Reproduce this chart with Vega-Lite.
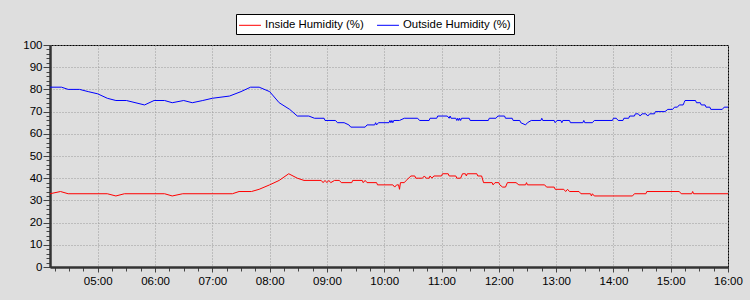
{
  "$schema": "https://vega.github.io/schema/vega-lite/v6.json",
  "autosize": "none",
  "width": 678,
  "height": 222,
  "padding": {"left": 50, "top": 45, "right": 22, "bottom": 33},
  "background": "#dedede",
  "config": {
    "view": {"stroke": "#000000", "strokeWidth": 1, "fill": "#dedede"},
    "font": "Liberation Sans",
    "axis": {"labelFont": "Liberation Sans", "labelFontSize": 11.5, "labelColor": "#000000", "domainColor": "#333333", "domainWidth": 2.5, "tickColor": "#444444", "gridColor": "#9a9a9a", "gridDash": [1, 2], "gridWidth": 1},
    "legend": {"labelFont": "Liberation Sans", "labelFontSize": 11.4, "labelColor": "#000000"}
  },
  "data": {"values": [
    {"t": "2024-01-01T04:10Z", "s": "Outside Humidity (%)", "v": 81},
    {"t": "2024-01-01T04:22Z", "s": "Outside Humidity (%)", "v": 81},
    {"t": "2024-01-01T04:29Z", "s": "Outside Humidity (%)", "v": 80},
    {"t": "2024-01-01T04:41Z", "s": "Outside Humidity (%)", "v": 80},
    {"t": "2024-01-01T04:50Z", "s": "Outside Humidity (%)", "v": 79},
    {"t": "2024-01-01T05:00Z", "s": "Outside Humidity (%)", "v": 78},
    {"t": "2024-01-01T05:10Z", "s": "Outside Humidity (%)", "v": 76},
    {"t": "2024-01-01T05:19Z", "s": "Outside Humidity (%)", "v": 75},
    {"t": "2024-01-01T05:30Z", "s": "Outside Humidity (%)", "v": 75},
    {"t": "2024-01-01T05:49Z", "s": "Outside Humidity (%)", "v": 73},
    {"t": "2024-01-01T05:59Z", "s": "Outside Humidity (%)", "v": 75},
    {"t": "2024-01-01T06:10Z", "s": "Outside Humidity (%)", "v": 75},
    {"t": "2024-01-01T06:18Z", "s": "Outside Humidity (%)", "v": 74},
    {"t": "2024-01-01T06:30Z", "s": "Outside Humidity (%)", "v": 75},
    {"t": "2024-01-01T06:39Z", "s": "Outside Humidity (%)", "v": 74},
    {"t": "2024-01-01T06:50Z", "s": "Outside Humidity (%)", "v": 75},
    {"t": "2024-01-01T07:00Z", "s": "Outside Humidity (%)", "v": 76},
    {"t": "2024-01-01T07:18Z", "s": "Outside Humidity (%)", "v": 77},
    {"t": "2024-01-01T07:30Z", "s": "Outside Humidity (%)", "v": 79},
    {"t": "2024-01-01T07:40Z", "s": "Outside Humidity (%)", "v": 81},
    {"t": "2024-01-01T07:49Z", "s": "Outside Humidity (%)", "v": 81},
    {"t": "2024-01-01T08:00Z", "s": "Outside Humidity (%)", "v": 79},
    {"t": "2024-01-01T08:10Z", "s": "Outside Humidity (%)", "v": 74},
    {"t": "2024-01-01T08:21Z", "s": "Outside Humidity (%)", "v": 71},
    {"t": "2024-01-01T08:29Z", "s": "Outside Humidity (%)", "v": 68},
    {"t": "2024-01-01T08:41Z", "s": "Outside Humidity (%)", "v": 68},
    {"t": "2024-01-01T08:47Z", "s": "Outside Humidity (%)", "v": 67},
    {"t": "2024-01-01T08:57Z", "s": "Outside Humidity (%)", "v": 67},
    {"t": "2024-01-01T08:58Z", "s": "Outside Humidity (%)", "v": 66},
    {"t": "2024-01-01T09:09Z", "s": "Outside Humidity (%)", "v": 66},
    {"t": "2024-01-01T09:11Z", "s": "Outside Humidity (%)", "v": 65},
    {"t": "2024-01-01T09:18Z", "s": "Outside Humidity (%)", "v": 65},
    {"t": "2024-01-01T09:23Z", "s": "Outside Humidity (%)", "v": 64},
    {"t": "2024-01-01T09:25Z", "s": "Outside Humidity (%)", "v": 63},
    {"t": "2024-01-01T09:40Z", "s": "Outside Humidity (%)", "v": 63},
    {"t": "2024-01-01T09:42Z", "s": "Outside Humidity (%)", "v": 64},
    {"t": "2024-01-01T09:50Z", "s": "Outside Humidity (%)", "v": 64},
    {"t": "2024-01-01T09:51Z", "s": "Outside Humidity (%)", "v": 65},
    {"t": "2024-01-01T09:52Z", "s": "Outside Humidity (%)", "v": 64},
    {"t": "2024-01-01T09:54Z", "s": "Outside Humidity (%)", "v": 65},
    {"t": "2024-01-01T10:05Z", "s": "Outside Humidity (%)", "v": 65},
    {"t": "2024-01-01T10:06Z", "s": "Outside Humidity (%)", "v": 66},
    {"t": "2024-01-01T10:07Z", "s": "Outside Humidity (%)", "v": 65},
    {"t": "2024-01-01T10:08Z", "s": "Outside Humidity (%)", "v": 66},
    {"t": "2024-01-01T10:09Z", "s": "Outside Humidity (%)", "v": 65},
    {"t": "2024-01-01T10:10Z", "s": "Outside Humidity (%)", "v": 66},
    {"t": "2024-01-01T10:16Z", "s": "Outside Humidity (%)", "v": 66},
    {"t": "2024-01-01T10:21Z", "s": "Outside Humidity (%)", "v": 67},
    {"t": "2024-01-01T10:35Z", "s": "Outside Humidity (%)", "v": 67},
    {"t": "2024-01-01T10:37Z", "s": "Outside Humidity (%)", "v": 66},
    {"t": "2024-01-01T10:47Z", "s": "Outside Humidity (%)", "v": 66},
    {"t": "2024-01-01T10:48Z", "s": "Outside Humidity (%)", "v": 67},
    {"t": "2024-01-01T10:55Z", "s": "Outside Humidity (%)", "v": 67},
    {"t": "2024-01-01T10:56Z", "s": "Outside Humidity (%)", "v": 68},
    {"t": "2024-01-01T11:06Z", "s": "Outside Humidity (%)", "v": 68},
    {"t": "2024-01-01T11:08Z", "s": "Outside Humidity (%)", "v": 67},
    {"t": "2024-01-01T11:09Z", "s": "Outside Humidity (%)", "v": 68},
    {"t": "2024-01-01T11:10Z", "s": "Outside Humidity (%)", "v": 67},
    {"t": "2024-01-01T11:15Z", "s": "Outside Humidity (%)", "v": 67},
    {"t": "2024-01-01T11:16Z", "s": "Outside Humidity (%)", "v": 66},
    {"t": "2024-01-01T11:17Z", "s": "Outside Humidity (%)", "v": 67},
    {"t": "2024-01-01T11:18Z", "s": "Outside Humidity (%)", "v": 66},
    {"t": "2024-01-01T11:19Z", "s": "Outside Humidity (%)", "v": 67},
    {"t": "2024-01-01T11:20Z", "s": "Outside Humidity (%)", "v": 66},
    {"t": "2024-01-01T11:21Z", "s": "Outside Humidity (%)", "v": 67},
    {"t": "2024-01-01T11:29Z", "s": "Outside Humidity (%)", "v": 67},
    {"t": "2024-01-01T11:30Z", "s": "Outside Humidity (%)", "v": 66},
    {"t": "2024-01-01T11:49Z", "s": "Outside Humidity (%)", "v": 66},
    {"t": "2024-01-01T11:50Z", "s": "Outside Humidity (%)", "v": 67},
    {"t": "2024-01-01T11:57Z", "s": "Outside Humidity (%)", "v": 67},
    {"t": "2024-01-01T11:59Z", "s": "Outside Humidity (%)", "v": 68},
    {"t": "2024-01-01T12:06Z", "s": "Outside Humidity (%)", "v": 68},
    {"t": "2024-01-01T12:07Z", "s": "Outside Humidity (%)", "v": 67},
    {"t": "2024-01-01T12:14Z", "s": "Outside Humidity (%)", "v": 67},
    {"t": "2024-01-01T12:15Z", "s": "Outside Humidity (%)", "v": 66},
    {"t": "2024-01-01T12:22Z", "s": "Outside Humidity (%)", "v": 66},
    {"t": "2024-01-01T12:23Z", "s": "Outside Humidity (%)", "v": 65},
    {"t": "2024-01-01T12:28Z", "s": "Outside Humidity (%)", "v": 64},
    {"t": "2024-01-01T12:30Z", "s": "Outside Humidity (%)", "v": 65},
    {"t": "2024-01-01T12:34Z", "s": "Outside Humidity (%)", "v": 66},
    {"t": "2024-01-01T12:44Z", "s": "Outside Humidity (%)", "v": 66},
    {"t": "2024-01-01T12:45Z", "s": "Outside Humidity (%)", "v": 67},
    {"t": "2024-01-01T12:46Z", "s": "Outside Humidity (%)", "v": 66},
    {"t": "2024-01-01T12:58Z", "s": "Outside Humidity (%)", "v": 66},
    {"t": "2024-01-01T12:59Z", "s": "Outside Humidity (%)", "v": 65},
    {"t": "2024-01-01T13:01Z", "s": "Outside Humidity (%)", "v": 66},
    {"t": "2024-01-01T13:05Z", "s": "Outside Humidity (%)", "v": 66},
    {"t": "2024-01-01T13:06Z", "s": "Outside Humidity (%)", "v": 65},
    {"t": "2024-01-01T13:07Z", "s": "Outside Humidity (%)", "v": 66},
    {"t": "2024-01-01T13:14Z", "s": "Outside Humidity (%)", "v": 66},
    {"t": "2024-01-01T13:15Z", "s": "Outside Humidity (%)", "v": 65},
    {"t": "2024-01-01T13:28Z", "s": "Outside Humidity (%)", "v": 65},
    {"t": "2024-01-01T13:29Z", "s": "Outside Humidity (%)", "v": 66},
    {"t": "2024-01-01T13:30Z", "s": "Outside Humidity (%)", "v": 65},
    {"t": "2024-01-01T13:38Z", "s": "Outside Humidity (%)", "v": 65},
    {"t": "2024-01-01T13:40Z", "s": "Outside Humidity (%)", "v": 66},
    {"t": "2024-01-01T13:59Z", "s": "Outside Humidity (%)", "v": 66},
    {"t": "2024-01-01T14:00Z", "s": "Outside Humidity (%)", "v": 67},
    {"t": "2024-01-01T14:03Z", "s": "Outside Humidity (%)", "v": 67},
    {"t": "2024-01-01T14:05Z", "s": "Outside Humidity (%)", "v": 66},
    {"t": "2024-01-01T14:10Z", "s": "Outside Humidity (%)", "v": 66},
    {"t": "2024-01-01T14:11Z", "s": "Outside Humidity (%)", "v": 67},
    {"t": "2024-01-01T14:16Z", "s": "Outside Humidity (%)", "v": 67},
    {"t": "2024-01-01T14:17Z", "s": "Outside Humidity (%)", "v": 68},
    {"t": "2024-01-01T14:22Z", "s": "Outside Humidity (%)", "v": 68},
    {"t": "2024-01-01T14:23Z", "s": "Outside Humidity (%)", "v": 69},
    {"t": "2024-01-01T14:26Z", "s": "Outside Humidity (%)", "v": 69},
    {"t": "2024-01-01T14:28Z", "s": "Outside Humidity (%)", "v": 68},
    {"t": "2024-01-01T14:30Z", "s": "Outside Humidity (%)", "v": 69},
    {"t": "2024-01-01T14:34Z", "s": "Outside Humidity (%)", "v": 69},
    {"t": "2024-01-01T14:36Z", "s": "Outside Humidity (%)", "v": 68},
    {"t": "2024-01-01T14:38Z", "s": "Outside Humidity (%)", "v": 69},
    {"t": "2024-01-01T14:43Z", "s": "Outside Humidity (%)", "v": 69},
    {"t": "2024-01-01T14:44Z", "s": "Outside Humidity (%)", "v": 70},
    {"t": "2024-01-01T14:54Z", "s": "Outside Humidity (%)", "v": 70},
    {"t": "2024-01-01T14:57Z", "s": "Outside Humidity (%)", "v": 71},
    {"t": "2024-01-01T15:02Z", "s": "Outside Humidity (%)", "v": 71},
    {"t": "2024-01-01T15:04Z", "s": "Outside Humidity (%)", "v": 72},
    {"t": "2024-01-01T15:07Z", "s": "Outside Humidity (%)", "v": 72},
    {"t": "2024-01-01T15:09Z", "s": "Outside Humidity (%)", "v": 73},
    {"t": "2024-01-01T15:13Z", "s": "Outside Humidity (%)", "v": 73},
    {"t": "2024-01-01T15:14Z", "s": "Outside Humidity (%)", "v": 74},
    {"t": "2024-01-01T15:15Z", "s": "Outside Humidity (%)", "v": 75},
    {"t": "2024-01-01T15:26Z", "s": "Outside Humidity (%)", "v": 75},
    {"t": "2024-01-01T15:27Z", "s": "Outside Humidity (%)", "v": 74},
    {"t": "2024-01-01T15:31Z", "s": "Outside Humidity (%)", "v": 74},
    {"t": "2024-01-01T15:32Z", "s": "Outside Humidity (%)", "v": 73},
    {"t": "2024-01-01T15:36Z", "s": "Outside Humidity (%)", "v": 73},
    {"t": "2024-01-01T15:37Z", "s": "Outside Humidity (%)", "v": 72},
    {"t": "2024-01-01T15:41Z", "s": "Outside Humidity (%)", "v": 72},
    {"t": "2024-01-01T15:42Z", "s": "Outside Humidity (%)", "v": 71},
    {"t": "2024-01-01T15:54Z", "s": "Outside Humidity (%)", "v": 71},
    {"t": "2024-01-01T15:56Z", "s": "Outside Humidity (%)", "v": 72},
    {"t": "2024-01-01T16:00Z", "s": "Outside Humidity (%)", "v": 72},
    {"t": "2024-01-01T04:10Z", "s": "Inside Humidity (%)", "v": 33},
    {"t": "2024-01-01T04:21Z", "s": "Inside Humidity (%)", "v": 34},
    {"t": "2024-01-01T04:29Z", "s": "Inside Humidity (%)", "v": 33},
    {"t": "2024-01-01T05:10Z", "s": "Inside Humidity (%)", "v": 33},
    {"t": "2024-01-01T05:19Z", "s": "Inside Humidity (%)", "v": 32},
    {"t": "2024-01-01T05:28Z", "s": "Inside Humidity (%)", "v": 33},
    {"t": "2024-01-01T06:10Z", "s": "Inside Humidity (%)", "v": 33},
    {"t": "2024-01-01T06:18Z", "s": "Inside Humidity (%)", "v": 32},
    {"t": "2024-01-01T06:29Z", "s": "Inside Humidity (%)", "v": 33},
    {"t": "2024-01-01T07:21Z", "s": "Inside Humidity (%)", "v": 33},
    {"t": "2024-01-01T07:28Z", "s": "Inside Humidity (%)", "v": 34},
    {"t": "2024-01-01T07:41Z", "s": "Inside Humidity (%)", "v": 34},
    {"t": "2024-01-01T07:49Z", "s": "Inside Humidity (%)", "v": 35},
    {"t": "2024-01-01T08:00Z", "s": "Inside Humidity (%)", "v": 37},
    {"t": "2024-01-01T08:10Z", "s": "Inside Humidity (%)", "v": 39},
    {"t": "2024-01-01T08:20Z", "s": "Inside Humidity (%)", "v": 42},
    {"t": "2024-01-01T08:29Z", "s": "Inside Humidity (%)", "v": 40},
    {"t": "2024-01-01T08:36Z", "s": "Inside Humidity (%)", "v": 39},
    {"t": "2024-01-01T08:54Z", "s": "Inside Humidity (%)", "v": 39},
    {"t": "2024-01-01T08:56Z", "s": "Inside Humidity (%)", "v": 38},
    {"t": "2024-01-01T08:58Z", "s": "Inside Humidity (%)", "v": 39},
    {"t": "2024-01-01T09:00Z", "s": "Inside Humidity (%)", "v": 38},
    {"t": "2024-01-01T09:02Z", "s": "Inside Humidity (%)", "v": 39},
    {"t": "2024-01-01T09:04Z", "s": "Inside Humidity (%)", "v": 38},
    {"t": "2024-01-01T09:08Z", "s": "Inside Humidity (%)", "v": 39},
    {"t": "2024-01-01T09:13Z", "s": "Inside Humidity (%)", "v": 39},
    {"t": "2024-01-01T09:15Z", "s": "Inside Humidity (%)", "v": 38},
    {"t": "2024-01-01T09:26Z", "s": "Inside Humidity (%)", "v": 38},
    {"t": "2024-01-01T09:27Z", "s": "Inside Humidity (%)", "v": 39},
    {"t": "2024-01-01T09:37Z", "s": "Inside Humidity (%)", "v": 39},
    {"t": "2024-01-01T09:38Z", "s": "Inside Humidity (%)", "v": 38},
    {"t": "2024-01-01T09:40Z", "s": "Inside Humidity (%)", "v": 39},
    {"t": "2024-01-01T09:42Z", "s": "Inside Humidity (%)", "v": 38},
    {"t": "2024-01-01T09:52Z", "s": "Inside Humidity (%)", "v": 38},
    {"t": "2024-01-01T09:53Z", "s": "Inside Humidity (%)", "v": 37},
    {"t": "2024-01-01T10:09Z", "s": "Inside Humidity (%)", "v": 37},
    {"t": "2024-01-01T10:11Z", "s": "Inside Humidity (%)", "v": 36},
    {"t": "2024-01-01T10:13Z", "s": "Inside Humidity (%)", "v": 37},
    {"t": "2024-01-01T10:15Z", "s": "Inside Humidity (%)", "v": 37},
    {"t": "2024-01-01T10:16Z", "s": "Inside Humidity (%)", "v": 35},
    {"t": "2024-01-01T10:17Z", "s": "Inside Humidity (%)", "v": 38},
    {"t": "2024-01-01T10:21Z", "s": "Inside Humidity (%)", "v": 38},
    {"t": "2024-01-01T10:23Z", "s": "Inside Humidity (%)", "v": 39},
    {"t": "2024-01-01T10:28Z", "s": "Inside Humidity (%)", "v": 41},
    {"t": "2024-01-01T10:32Z", "s": "Inside Humidity (%)", "v": 41},
    {"t": "2024-01-01T10:33Z", "s": "Inside Humidity (%)", "v": 40},
    {"t": "2024-01-01T10:40Z", "s": "Inside Humidity (%)", "v": 40},
    {"t": "2024-01-01T10:42Z", "s": "Inside Humidity (%)", "v": 41},
    {"t": "2024-01-01T10:44Z", "s": "Inside Humidity (%)", "v": 40},
    {"t": "2024-01-01T10:47Z", "s": "Inside Humidity (%)", "v": 40},
    {"t": "2024-01-01T10:48Z", "s": "Inside Humidity (%)", "v": 41},
    {"t": "2024-01-01T10:50Z", "s": "Inside Humidity (%)", "v": 40},
    {"t": "2024-01-01T10:52Z", "s": "Inside Humidity (%)", "v": 41},
    {"t": "2024-01-01T11:00Z", "s": "Inside Humidity (%)", "v": 41},
    {"t": "2024-01-01T11:01Z", "s": "Inside Humidity (%)", "v": 42},
    {"t": "2024-01-01T11:07Z", "s": "Inside Humidity (%)", "v": 42},
    {"t": "2024-01-01T11:08Z", "s": "Inside Humidity (%)", "v": 41},
    {"t": "2024-01-01T11:15Z", "s": "Inside Humidity (%)", "v": 41},
    {"t": "2024-01-01T11:16Z", "s": "Inside Humidity (%)", "v": 40},
    {"t": "2024-01-01T11:20Z", "s": "Inside Humidity (%)", "v": 40},
    {"t": "2024-01-01T11:22Z", "s": "Inside Humidity (%)", "v": 42},
    {"t": "2024-01-01T11:25Z", "s": "Inside Humidity (%)", "v": 42},
    {"t": "2024-01-01T11:26Z", "s": "Inside Humidity (%)", "v": 41},
    {"t": "2024-01-01T11:27Z", "s": "Inside Humidity (%)", "v": 42},
    {"t": "2024-01-01T11:37Z", "s": "Inside Humidity (%)", "v": 42},
    {"t": "2024-01-01T11:38Z", "s": "Inside Humidity (%)", "v": 41},
    {"t": "2024-01-01T11:42Z", "s": "Inside Humidity (%)", "v": 41},
    {"t": "2024-01-01T11:44Z", "s": "Inside Humidity (%)", "v": 38},
    {"t": "2024-01-01T11:53Z", "s": "Inside Humidity (%)", "v": 38},
    {"t": "2024-01-01T11:54Z", "s": "Inside Humidity (%)", "v": 37},
    {"t": "2024-01-01T11:56Z", "s": "Inside Humidity (%)", "v": 38},
    {"t": "2024-01-01T12:00Z", "s": "Inside Humidity (%)", "v": 38},
    {"t": "2024-01-01T12:01Z", "s": "Inside Humidity (%)", "v": 37},
    {"t": "2024-01-01T12:04Z", "s": "Inside Humidity (%)", "v": 36},
    {"t": "2024-01-01T12:07Z", "s": "Inside Humidity (%)", "v": 36},
    {"t": "2024-01-01T12:09Z", "s": "Inside Humidity (%)", "v": 38},
    {"t": "2024-01-01T12:18Z", "s": "Inside Humidity (%)", "v": 38},
    {"t": "2024-01-01T12:21Z", "s": "Inside Humidity (%)", "v": 37},
    {"t": "2024-01-01T12:28Z", "s": "Inside Humidity (%)", "v": 37},
    {"t": "2024-01-01T12:29Z", "s": "Inside Humidity (%)", "v": 38},
    {"t": "2024-01-01T12:30Z", "s": "Inside Humidity (%)", "v": 37},
    {"t": "2024-01-01T12:48Z", "s": "Inside Humidity (%)", "v": 37},
    {"t": "2024-01-01T12:50Z", "s": "Inside Humidity (%)", "v": 36},
    {"t": "2024-01-01T12:58Z", "s": "Inside Humidity (%)", "v": 36},
    {"t": "2024-01-01T12:59Z", "s": "Inside Humidity (%)", "v": 35},
    {"t": "2024-01-01T13:08Z", "s": "Inside Humidity (%)", "v": 35},
    {"t": "2024-01-01T13:10Z", "s": "Inside Humidity (%)", "v": 34},
    {"t": "2024-01-01T13:12Z", "s": "Inside Humidity (%)", "v": 35},
    {"t": "2024-01-01T13:14Z", "s": "Inside Humidity (%)", "v": 34},
    {"t": "2024-01-01T13:24Z", "s": "Inside Humidity (%)", "v": 34},
    {"t": "2024-01-01T13:26Z", "s": "Inside Humidity (%)", "v": 33},
    {"t": "2024-01-01T13:36Z", "s": "Inside Humidity (%)", "v": 33},
    {"t": "2024-01-01T13:37Z", "s": "Inside Humidity (%)", "v": 32},
    {"t": "2024-01-01T13:38Z", "s": "Inside Humidity (%)", "v": 33},
    {"t": "2024-01-01T13:40Z", "s": "Inside Humidity (%)", "v": 32},
    {"t": "2024-01-01T14:20Z", "s": "Inside Humidity (%)", "v": 32},
    {"t": "2024-01-01T14:22Z", "s": "Inside Humidity (%)", "v": 33},
    {"t": "2024-01-01T14:34Z", "s": "Inside Humidity (%)", "v": 33},
    {"t": "2024-01-01T14:35Z", "s": "Inside Humidity (%)", "v": 34},
    {"t": "2024-01-01T15:09Z", "s": "Inside Humidity (%)", "v": 34},
    {"t": "2024-01-01T15:11Z", "s": "Inside Humidity (%)", "v": 33},
    {"t": "2024-01-01T15:22Z", "s": "Inside Humidity (%)", "v": 33},
    {"t": "2024-01-01T15:23Z", "s": "Inside Humidity (%)", "v": 34},
    {"t": "2024-01-01T15:24Z", "s": "Inside Humidity (%)", "v": 33},
    {"t": "2024-01-01T16:00Z", "s": "Inside Humidity (%)", "v": 33}
  ]},
  "mark": {"type": "line", "strokeWidth": 1, "interpolate": "linear"},
  "encoding": {
    "x": {
      "field": "t", "type": "temporal", "title": null,
      "scale": {"type": "utc", "domain": [{"year": 2024, "month": 1, "date": 1, "hours": 4, "minutes": 10, "utc": true}, {"year": 2024, "month": 1, "date": 1, "hours": 16, "minutes": 0, "utc": true}], "nice": false},
      "axis": {
        "values": [1704082500000, 1704083400000, 1704084300000, 1704085200000, 1704086100000, 1704087000000, 1704087900000, 1704088800000, 1704089700000, 1704090600000, 1704091500000, 1704092400000, 1704093300000, 1704094200000, 1704095100000, 1704096000000, 1704096900000, 1704097800000, 1704098700000, 1704099600000, 1704100500000, 1704101400000, 1704102300000, 1704103200000, 1704104100000, 1704105000000, 1704105900000, 1704106800000, 1704107700000, 1704108600000, 1704109500000, 1704110400000, 1704111300000, 1704112200000, 1704113100000, 1704114000000, 1704114900000, 1704115800000, 1704116700000, 1704117600000, 1704118500000, 1704119400000, 1704120300000, 1704121200000, 1704122100000, 1704123000000, 1704123900000, 1704124800000],
        "format": "%H:%M",
        "labelExpr": "utcminutes(datum.value) === 0 ? datum.label : ''",
        "labelOverlap": false,
        "labelFlush": false,
        "labelPadding": 3,
        "tickSize": {"condition": {"test": "utcminutes(datum.value) === 0", "value": 5}, "value": 4},
        "gridOpacity": {"condition": {"test": "utcminutes(datum.value) === 0", "value": 1}, "value": 0}
      }
    },
    "y": {
      "field": "v", "type": "quantitative", "title": null,
      "scale": {"domain": [0, 100], "nice": false, "zero": true},
      "axis": {
        "values": [0, 2, 4, 6, 8, 10, 12, 14, 16, 18, 20, 22, 24, 26, 28, 30, 32, 34, 36, 38, 40, 42, 44, 46, 48, 50, 52, 54, 56, 58, 60, 62, 64, 66, 68, 70, 72, 74, 76, 78, 80, 82, 84, 86, 88, 90, 92, 94, 96, 98, 100],
        "labelExpr": "datum.value % 10 === 0 ? datum.label : ''",
        "labelOverlap": false,
        "labelFlush": false,
        "labelPadding": 1,
        "tickSize": {"condition": {"test": "datum.value % 10 === 0", "value": 7}, "value": 4},
        "gridOpacity": {"condition": {"test": "datum.value % 10 === 0", "value": 1}, "value": 0}
      }
    },
    "color": {
      "field": "s", "type": "nominal",
      "scale": {"domain": ["Inside Humidity (%)", "Outside Humidity (%)"], "range": ["#ff0000", "#0000ff"]},
      "legend": {
        "title": null, "orient": "none", "legendX": 186, "legendY": -31,
        "direction": "horizontal", "strokeColor": "#000000", "fillColor": "#ffffff",
        "padding": 3, "symbolType": "M-1.55,0H1.55", "symbolSize": 200, "symbolStrokeWidth": 1,
        "symbolOffset": 3, "labelOffset": 7, "columnPadding": 11
      }
    }
  }
}
